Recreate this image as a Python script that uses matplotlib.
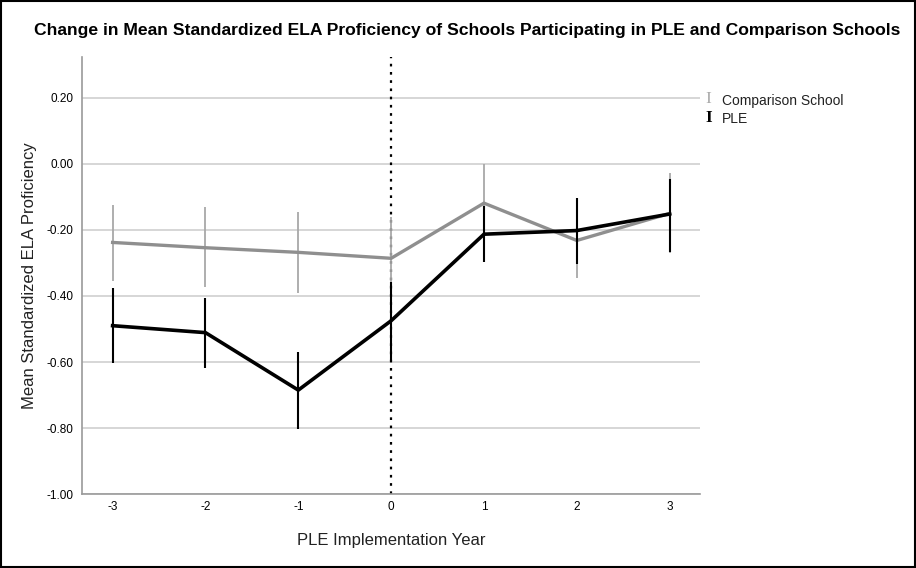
import matplotlib
matplotlib.use("Agg")
import matplotlib.pyplot as plt
from matplotlib.patches import Rectangle

plt.rcParams['font.family'] = ['Liberation Sans', 'DejaVu Sans']

years = [-3, -2, -1, 0, 1, 2, 3]

comp_mean = [-0.238, -0.254, -0.268, -0.286, -0.119, -0.232, -0.150]
comp_low = [-0.354, -0.374, -0.390, -0.410, -0.240, -0.346, -0.270]
comp_high = [-0.124, -0.132, -0.147, -0.160, 0.000, -0.118, -0.028]

ple_mean = [-0.490, -0.511, -0.685, -0.475, -0.213, -0.202, -0.152]
ple_low = [-0.602, -0.619, -0.804, -0.596, -0.298, -0.303, -0.266]
ple_high = [-0.375, -0.407, -0.569, -0.357, -0.128, -0.102, -0.045]

yticks = [0.20, 0.00, -0.20, -0.40, -0.60, -0.80, -1.00]

fig = plt.figure(figsize=(9.16, 5.68), dpi=100)
ax = fig.add_axes([0.0895, 0.130, 0.675, 0.770])

grey_line = '#8f8f8f'
grey_bar = '#a8a8a8'

# grid
ax.set_axisbelow(True)
ax.yaxis.grid(True, color='#cfcfcf', linewidth=1.2)

# reference line at implementation year
ax.axvline(0, color='black', linestyle=(0, (1.2, 2.5)), linewidth=1.6, zorder=2)

# comparison schools
ax.vlines(years, comp_low, comp_high, color=grey_bar, linewidth=1.3, zorder=3)
ax.plot(years, comp_mean, color=grey_line, linewidth=2.4, zorder=4,
        solid_joinstyle='miter')

# PLE schools
ax.vlines(years, ple_low, ple_high, color='black', linewidth=1.5, zorder=5)
ax.plot(years, ple_mean, color='black', linewidth=2.6, zorder=6,
        solid_joinstyle='miter')

ax.set_xlim(-3.33, 3.33)
ax.set_ylim(-1.0, 0.324)
ax.set_xticks(years)
ax.set_xticklabels([str(y) for y in years], fontsize=8.5)
ax.set_yticks(yticks)
ax.set_yticklabels([f"{v:.2f}" for v in yticks], fontsize=8.5)
ax.tick_params(axis='x', length=0, pad=5)
ax.tick_params(axis='y', length=0, pad=6)

for side in ['top', 'right']:
    ax.spines[side].set_visible(False)
for side in ['left', 'bottom']:
    ax.spines[side].set_color('#9a9a9a')
    ax.spines[side].set_linewidth(1.2)

ax.set_xlabel('PLE Implementation Year', fontsize=12, labelpad=14, color='#222222')
ax.set_ylabel('Mean Standardized ELA Proficiency', fontsize=12, labelpad=7,
              color='#222222')

fig.text(0.510, 0.947, 'Change in Mean Standardized ELA Proficiency of Schools '
         'Participating in PLE and Comparison Schools',
         ha='center', va='center', fontsize=12.6, fontweight='bold')

# legend entries with error-bar glyphs
fig.text(0.770, 0.825, 'I', family='Liberation Serif', fontsize=12.5,
         color=grey_bar, ha='left', va='center')
fig.text(0.788, 0.823, 'Comparison School', fontsize=10, ha='left', va='center',
         color='#222222')
fig.text(0.770, 0.793, 'I', family='Liberation Serif', fontsize=12.5,
         fontweight='bold', color='black', ha='left', va='center')
fig.text(0.788, 0.791, 'PLE', fontsize=10, ha='left', va='center',
         color='#222222')

# outer frame
fig.patches.append(Rectangle((0.001, 0.001), 0.998, 0.998, transform=fig.transFigure,
                             fill=False, edgecolor='black', linewidth=1.5))

fig.savefig('out.png', dpi=100)
